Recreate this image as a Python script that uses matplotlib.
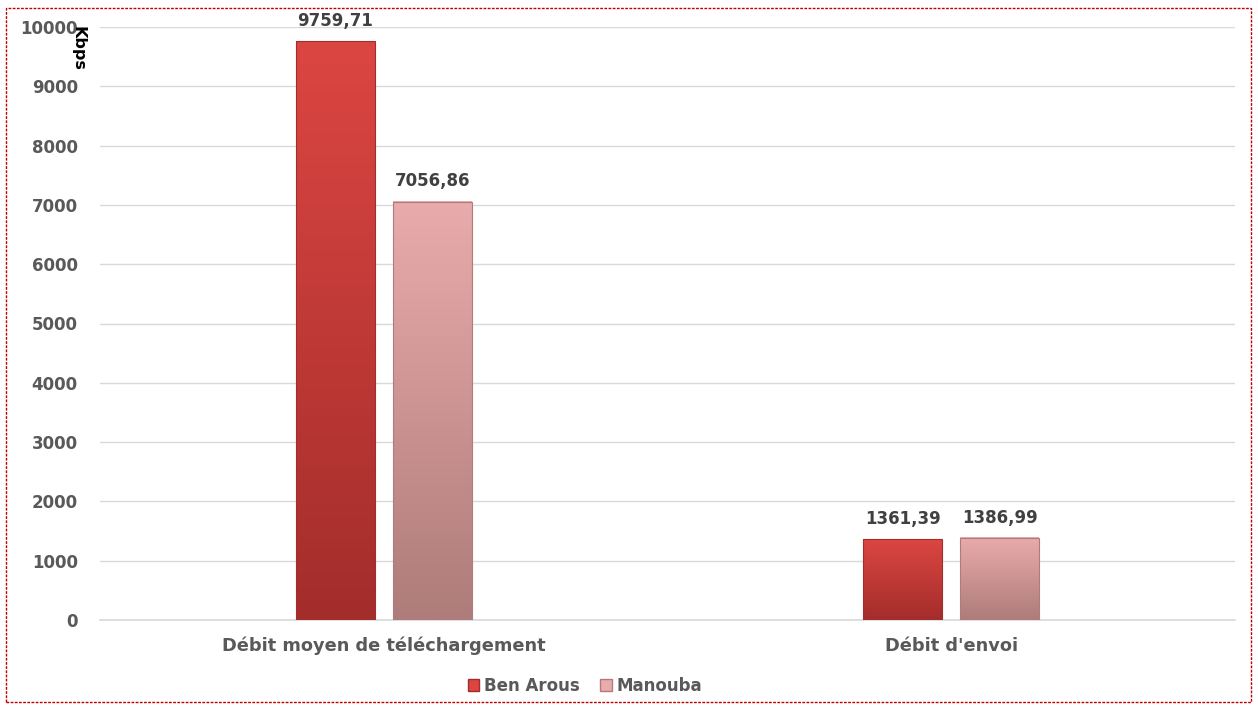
import matplotlib.pyplot as plt
import matplotlib.patches as mpatches
import numpy as np

categories = ["Débit moyen de téléchargement", "Débit d'envoi"]
ben_arous = [9759.71, 1361.39]
manouba = [7056.86, 1386.99]
series_names = ["Ben Arous", "Manouba"]

plt.rcParams['font.family'] = ['DejaVu Sans']

fig = plt.figure(figsize=(12.58, 7.06), dpi=100)
ax = fig.add_axes([100 / 1258, 86 / 706, 1135 / 1258, 593 / 706])

x = np.arange(len(categories))
width = 0.139
offset = 0.0855

# gradient colours (top, bottom) for each series
grads = [("#dc4642", "#a32d2b"), ("#e9abab", "#ae7c7a")]


def gradient_bars(xpos, values, cols, label):
    bars = ax.bar(xpos, values, width, color=cols[0], label=label,
                  edgecolor="none", zorder=2)
    top = np.array(plt.matplotlib.colors.to_rgb(cols[0]))
    bot = np.array(plt.matplotlib.colors.to_rgb(cols[1]))
    t = np.linspace(0, 1, 256)[:, None]
    img = (top * (1 - t) + bot * t)[:, None, :]
    for b in bars:
        x0, y0 = b.get_x(), b.get_y()
        ax.imshow(img, extent=[x0, x0 + b.get_width(), y0, y0 + b.get_height()],
                  aspect="auto", zorder=3)
        edge = mpatches.Rectangle((x0, y0), b.get_width(), b.get_height(),
                                  fill=False, edgecolor=cols[1], lw=0.8,
                                  zorder=4)
        ax.add_patch(edge)
    return bars


b1 = gradient_bars(x - offset, ben_arous, grads[0], series_names[0])
b2 = gradient_bars(x + offset, manouba, grads[1], series_names[1])

for bars, vals in ((b1, ben_arous), (b2, manouba)):
    for b, v in zip(bars, vals):
        ax.annotate(f"{v:.2f}".replace(".", ","),
                    (b.get_x() + b.get_width() / 2, v),
                    xytext=(0, 8), textcoords="offset points",
                    ha="center", va="bottom",
                    fontsize=12, fontweight="bold", color="#404040")

ax.set_xlim(-0.5, 1.5)
ax.set_ylim(0, 10000)
ax.set_yticks(np.arange(0, 10001, 1000))
ax.set_xticks(x)
ax.set_xticklabels(categories)
ax.tick_params(length=0, labelsize=12, labelcolor="#595959")
ax.tick_params(axis="y", pad=16)
ax.tick_params(axis="x", pad=12, labelsize=12.8)
for lab in ax.get_xticklabels() + ax.get_yticklabels():
    lab.set_fontweight("bold")
ax.grid(axis="y", color="#d9d9d9", lw=1, zorder=0)
for s in ax.spines.values():
    s.set_visible(False)
ax.axhline(0, color="#d9d9d9", lw=1.2, zorder=1, clip_on=False)

fig.text(78 / 1258, 1 - 26 / 706, "Kbps", rotation=-90, ha="center", va="top",
         fontsize=11.5, fontweight="bold", color="black")

handles = [mpatches.Patch(facecolor=grads[0][0], edgecolor=grads[0][1]),
           mpatches.Patch(facecolor=grads[1][0], edgecolor=grads[1][1])]
fig.legend(handles, series_names, loc="center", bbox_to_anchor=(585 / 1258, 20 / 706),
           ncol=2, frameon=False, handlelength=0.7, handleheight=0.7,
           handletextpad=0.3, columnspacing=1.2,
           prop={"size": 12, "weight": "bold"}, labelcolor="#595959")

border = mpatches.Rectangle((6 / 1258, 4 / 706), 1245 / 1258, 694 / 706,
                            transform=fig.transFigure, fill=False,
                            edgecolor="#c00000", lw=1, ls=(0, (2, 1)))
fig.patches.append(border)

fig.savefig("out.png", dpi=100, facecolor="white")
